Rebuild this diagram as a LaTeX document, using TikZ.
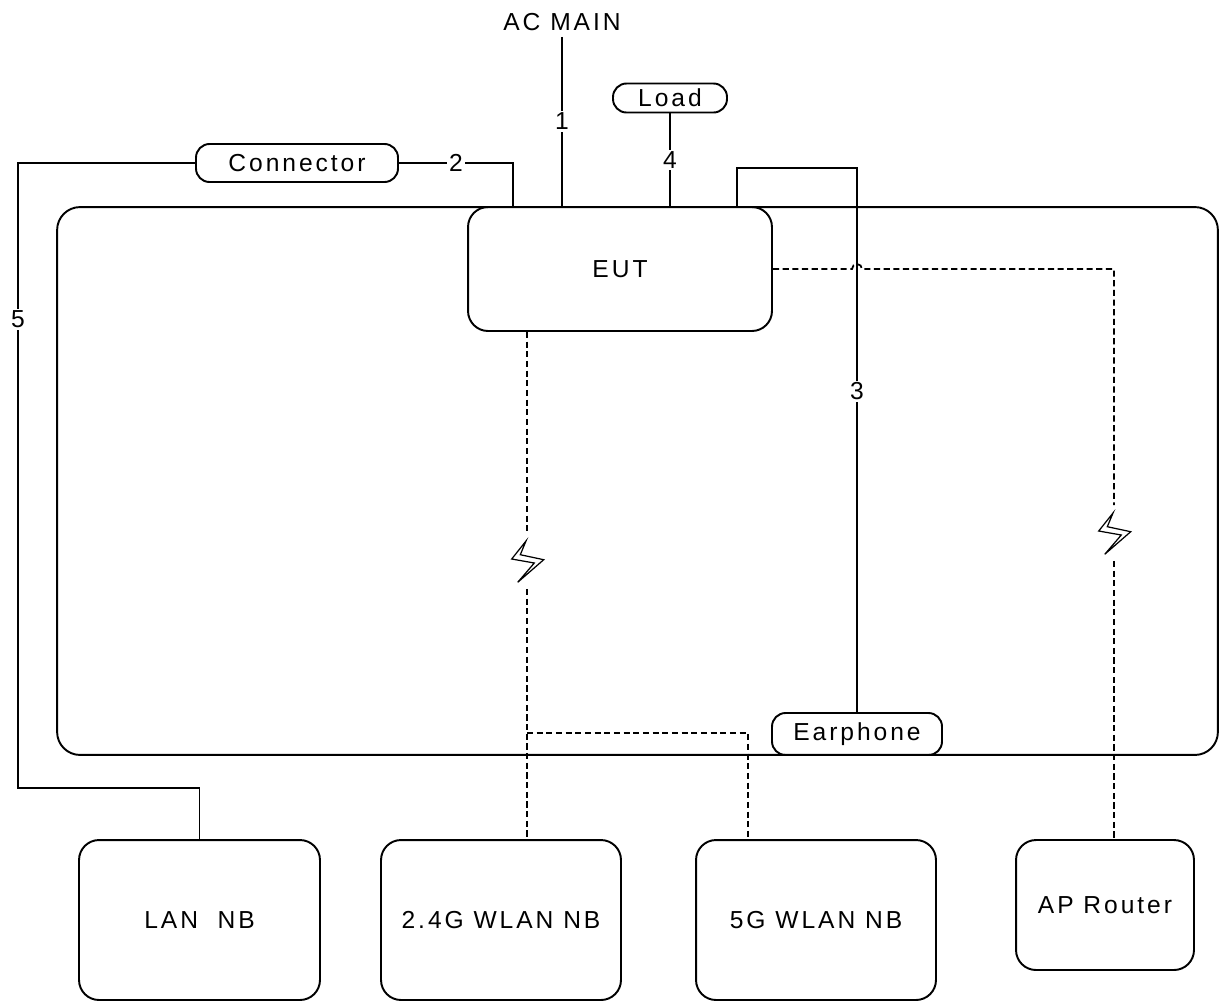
\documentclass[tikz,border=0pt]{standalone}
\usepackage{fontspec}
\setmainfont[LetterSpace=12]{Liberation Sans}
\usetikzlibrary{calc}

\begin{document}
\begin{tikzpicture}[x=0.02cm,y=-0.02cm,
	font=\fontsize{14}{16}\selectfont,
	box/.style={draw,line width=1.1pt,rounded corners=0.4cm,inner sep=0pt},
	pill/.style={draw,line width=1.1pt,rounded corners=0.27cm,inner sep=0pt},
	wire/.style={line width=1.1pt},
	thinwire/.style={line width=0.6pt},
	radio/.style={line width=1pt,dash pattern=on 3.5pt off 2pt},
	num/.style={fill=white,inner sep=1pt},
	bolt/.style={minimum width=0.8cm,minimum height=1.1cm,inner sep=0pt,
		path picture={\draw[line width=0.7pt,shift={(path picture bounding box.center)}]
			(-1,-20) -- (-6.7,-6.3) -- (16.7,-1.3) -- (-9.3,21.3) -- (7.3,2) -- (-15.3,-2) -- cycle;}}]
	\useasboundingbox (0,0) rectangle (1223,1002);

	\node[box,rounded corners=0.46cm,minimum width=23.22cm,minimum height=10.96cm] (area) at (637.5,481) {};
	\node[box,minimum width=6.08cm,minimum height=2.48cm] (eut) at (620,269) {EUT};
	\node (acmain) at (562,22) {AC MAIN};
	\node[pill,minimum width=2.28cm,minimum height=0.58cm] (load) at (670,98) {Load};
	\node[pill,minimum width=4.04cm,minimum height=0.76cm] (conn) at (297,163) {Connector};
	\node[pill,minimum width=3.4cm,minimum height=0.84cm] (ear) at (857,734) {Earphone};

	\node[box,minimum width=4.82cm,minimum height=3.2cm] (lan) at (199.5,920) {LAN\ \ NB};
	\node[box,minimum width=4.8cm,minimum height=3.2cm] (wlan24) at (501,920) {2.4G WLAN NB};
	\node[box,minimum width=4.8cm,minimum height=3.2cm] (wlan5) at (816,920) {5G WLAN NB};
	\node[box,minimum width=3.56cm,minimum height=2.6cm] (ap) at (1105,905) {AP Router};

	\node[bolt] (bolt24) at (527,561) {};
	\node[bolt] (boltap) at (1114,533) {};

	\coordinate (p2) at (513,207);
	\coordinate (p3) at (737,207);
	\coordinate (top3) at (857,168);
	\coordinate (bend5) at (18,788);
	\coordinate (split) at (527,733);
	\coordinate (hop) at (857,269);

	\draw[wire] (acmain.south) -- node[num]{1} (acmain.south |- eut.north);
	\draw[wire] (load.south) -- node[num]{4} (load.south |- eut.north);
	\draw[wire] (conn.east) -- node[num]{2} (conn.east -| p2) -- (p2);
	\draw[wire] (conn.west) -| node[num,pos=0.625]{5} (bend5) -| (lan.north);
	\draw[thinwire] (ear.north) -- node[num,pos=0.59]{3} (top3) -| (p3);

	\draw[radio] (eut.east) -- ($(hop)+(-5,0)$) arc[start angle=180,end angle=0,radius=0.1cm] -- (boltap |- hop) -- (boltap.north);
	\draw[radio] (boltap.south) -- (boltap |- ap.north);
	\draw[radio] (bolt24 |- eut.south) -- (bolt24.north);
	\draw[radio] (bolt24.south) -- (bolt24 |- wlan24.north);
	\draw[radio] (split) -| ($(wlan5.north)+(-68,0)$);
\end{tikzpicture}
\end{document}
